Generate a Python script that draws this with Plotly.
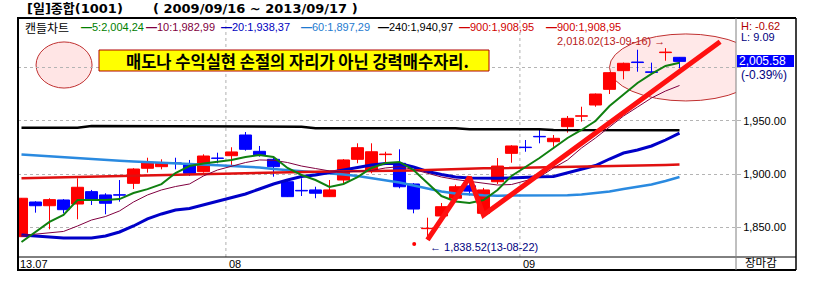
import plotly.graph_objects as go

# ---------------- data ----------------
dates = (["2013-07-%02d" % d for d in [11, 12, 15, 16, 17, 18, 19, 22, 23, 24, 25, 26, 29, 30, 31]] +
         ["2013-08-%02d" % d for d in [1, 2, 5, 6, 7, 8, 9, 12, 13, 14, 16, 19, 20, 21, 22, 23, 26, 27, 28, 29, 30]] +
         ["2013-09-%02d" % d for d in [2, 3, 4, 5, 6, 9, 10, 11, 12, 13, 16, 17]])

opens = [1841.3, 1873.8, 1870.3, 1875.7, 1871.9, 1883.5, 1880.4, 1880.6, 1891.3, 1905.4,
         1906.9, 1910.4, 1908.5, 1902.2, 1915.0, 1917.2, 1936.6, 1921.3, 1913.8, 1892.8,
         1884.7, 1885.1, 1878.8, 1894.4, 1913.8, 1903.8, 1918.2, 1910.1, 1890.7, 1848.8,
         1860.7, 1877.3, 1889.0, 1863.2, 1892.8, 1919.4, 1925.2, 1935.3, 1930.3, 1944.4,
         1954.2, 1964.7, 1979.4, 1996.9, 2005.0, 1995.8, 2013.8, 2009.4]
highs = [1877.5, 1874.5, 1877.3, 1876.5, 1896.0, 1885.1, 1882.0, 1894.4, 1905.5, 1915.3,
         1913.8, 1915.3, 1913.2, 1918.5, 1920.0, 1925.1, 1939.4, 1926.3, 1916.9, 1893.5,
         1896.0, 1888.1, 1894.4, 1914.0, 1928.8, 1928.8, 1920.9, 1923.2, 1891.5, 1859.1,
         1872.9, 1890.0, 1896.0, 1887.0, 1915.0, 1927.0, 1931.9, 1941.3, 1936.6, 1954.4,
         1963.1, 1975.5, 1995.5, 2004.5, 2016.5, 2004.4, 2018.02, 2009.6]
lows = [1841.0, 1863.8, 1848.2, 1863.2, 1857.6, 1871.0, 1862.3, 1874.1, 1886.0, 1901.3,
        1904.4, 1904.4, 1898.2, 1901.3, 1910.1, 1908.5, 1921.9, 1916.3, 1897.5, 1878.5,
        1879.4, 1877.3, 1878.5, 1891.3, 1910.1, 1900.7, 1908.5, 1886.6, 1863.2, 1838.52,
        1858.5, 1875.0, 1880.0, 1862.0, 1890.7, 1910.6, 1920.9, 1928.8, 1925.6, 1938.8,
        1949.1, 1963.1, 1975.0, 1988.8, 1995.9, 1993.0, 2006.2, 1999.1]
closes = [1877.3, 1870.3, 1876.0, 1866.6, 1887.6, 1875.7, 1872.6, 1880.2, 1904.7, 1911.0,
          1910.1, 1910.0, 1900.7, 1916.9, 1914.7, 1920.7, 1923.2, 1917.9, 1906.9, 1878.8,
          1884.2, 1882.0, 1885.1, 1913.2, 1924.7, 1920.9, 1918.7, 1888.1, 1867.2, 1849.2,
          1869.4, 1888.1, 1884.0, 1885.1, 1907.5, 1926.3, 1924.8, 1934.9, 1933.5, 1952.2,
          1954.6, 1975.0, 1995.0, 2003.8, 2004.5, 1995.3, 2014.3, 2005.58]

ma5 = [1836.3, 1845.7, 1855.1, 1861.6, 1875.6, 1875.6, 1875.6, 1876.5, 1882.2, 1885.9,
       1890.6, 1900.9, 1907.5, 1909.9, 1911.3, 1913.2, 1916.0, 1917.9, 1916.0, 1905.7,
       1899.1, 1894.4, 1887.9, 1890.7, 1897.2, 1905.7, 1910.4, 1911.3, 1903.8, 1891.6,
       1879.4, 1874.3, 1872.9, 1875.7, 1885.1, 1898.2, 1906.6, 1915.0, 1924.4, 1933.8,
       1941.3, 1949.7, 1963.8, 1975.0, 1985.3, 1993.8, 2001.3, 2004.24]
ma10 = [1842.4, 1843.8, 1844.8, 1846.2, 1851.3, 1856.9, 1860.2, 1865.4, 1873.8, 1880.4,
        1885.1, 1888.3, 1890.7, 1898.2, 1903.8, 1907.5, 1910.8, 1913.2, 1912.9, 1910.8,
        1907.5, 1905.2, 1902.9, 1901.9, 1902.9, 1903.3, 1905.7, 1906.9, 1904.3, 1901.0,
        1897.2, 1894.9, 1893.0, 1891.1, 1889.7, 1890.2, 1893.5, 1897.2, 1905.7, 1913.2,
        1924.4, 1933.8, 1944.1, 1954.4, 1962.8, 1971.3, 1977.8, 1982.99]
ma20 = [1842.9, 1841.9, 1840.5, 1840.1, 1840.1, 1840.1, 1841.9, 1845.7, 1851.3, 1857.9,
        1862.6, 1866.3, 1867.7, 1871.0, 1874.7, 1878.0, 1881.3, 1886.0, 1890.7, 1894.4,
        1897.7, 1899.1, 1901.5, 1903.8, 1906.6, 1908.5, 1909.9, 1909.9, 1906.6, 1902.4,
        1899.6, 1897.2, 1896.3, 1896.0, 1896.0, 1896.3, 1897.2, 1897.5, 1897.7, 1901.0,
        1904.7, 1908.0, 1914.1, 1919.7, 1922.5, 1926.3, 1931.9, 1938.37]
ma60 = [1918.3, 1917.4, 1916.4, 1915.7, 1914.9, 1914.1, 1913.2, 1912.4, 1911.8, 1911.3,
        1910.8, 1910.4, 1909.9, 1909.0, 1908.2, 1907.5, 1907.1, 1906.1, 1904.7, 1903.8,
        1902.9, 1901.6, 1900.7, 1899.6, 1898.2, 1896.3, 1894.4, 1892.1, 1889.3, 1886.5,
        1883.6, 1881.8, 1880.8, 1880.1, 1879.7, 1879.7, 1879.7, 1879.7, 1879.7, 1880.2,
        1880.8, 1882.0, 1883.6, 1886.0, 1887.9, 1890.2, 1893.5, 1897.29]
ma240 = [1943.5, 1943.5, 1943.5, 1943.5, 1943.5, 1945.0, 1945.0, 1945.0, 1945.0, 1945.0,
         1945.0, 1945.0, 1945.0, 1945.0, 1945.0, 1945.0, 1944.3, 1944.3, 1944.3, 1944.3,
         1944.3, 1942.9, 1942.9, 1942.9, 1942.9, 1942.9, 1942.9, 1942.9, 1942.9, 1942.9,
         1942.9, 1942.9, 1942.0, 1942.0, 1942.0, 1942.0, 1942.0, 1942.0, 1941.2, 1941.2,
         1941.2, 1941.2, 1941.2, 1941.2, 1941.2, 1941.2, 1941.1, 1940.97]
ma900 = [1896.0, 1896.3, 1896.8, 1897.2, 1897.7, 1897.9, 1898.2, 1898.4, 1898.6, 1898.8,
         1899.1, 1899.3, 1899.6, 1900.0, 1900.5, 1901.0, 1901.3, 1901.6, 1901.9, 1901.9,
         1902.1, 1902.2, 1902.3, 1902.4, 1902.4, 1902.7, 1902.9, 1903.1, 1903.4, 1903.8,
         1904.3, 1904.7, 1905.1, 1905.4, 1905.5, 1905.7, 1906.1, 1906.6, 1906.9, 1906.9,
         1906.9, 1906.9, 1907.1, 1907.3, 1907.7, 1908.2, 1908.5, 1908.95]

legend_labels = ["5:2,004,24", "10:1,982,99", "20:1,938,37", "60:1,897,29",
                 "240:1,940,97", "900:1,908,95", "900:1,908,95"]
y_ticks = [1850, 1900, 1950, 2000]
y_ticktext = ["1,850.00", "1,900.00", "1,950.00", ""]
month_labels = ["13.07", "08", "09"]

# hand-drawn trend line (index, price)
trend_x = [29, 32, 33, 49.9]
trend_y = [1838.2, 1897.0, 1861.6, 2024.0]
dot_x, dot_y = [28.05], [1834.5]

# ---------------- figure ----------------
N = len(closes)
xs = list(range(N))
UP, DOWN = "#ff0000", "#0000ff"
cols = [UP if c >= o else DOWN for o, c in zip(opens, closes)]

fig = go.Figure()

# wicks
for colr in (UP, DOWN):
    wx, wy = [], []
    for i in xs:
        if cols[i] == colr:
            wx += [i, i, None]
            wy += [lows[i], highs[i], None]
    fig.add_trace(go.Scatter(x=wx, y=wy, mode="lines", line=dict(color=colr, width=1),
                             hoverinfo="skip"))
# bodies
fig.add_trace(go.Bar(x=xs, y=[abs(c - o) for o, c in zip(opens, closes)],
                     base=[min(o, c) for o, c in zip(opens, closes)], width=0.86,
                     marker=dict(color=cols, line=dict(color=cols, width=1))))

ma_specs = [(ma60, "#2a8ae0", 2.5), (ma20, "#0000c8", 3), (ma900, "#e01010", 2.5),
            (ma240, "#000000", 2.5), (ma10, "#800040", 1), (ma5, "#108010", 2)]
for arr, colr, w in ma_specs:
    fig.add_trace(go.Scatter(x=xs, y=arr, mode="lines", line=dict(color=colr, width=w)))

fig.add_trace(go.Scatter(x=trend_x, y=trend_y, mode="lines",
                         line=dict(color="#ff1010", width=5)))
fig.add_trace(go.Scatter(x=dot_x, y=dot_y, mode="markers",
                         marker=dict(color="#ff0000", size=4)))

X0, X1 = -0.25, 51.036
Y0, Y1 = 1822.25, 2046.25

PL, PR, PT, PB = 18, 736, 18, 257


def fx(px):
    return (px - PL) / (PR - PL)


def fy(py):
    return (PB - py) / (PB - PT)


shapes = []
# ellipses (data refs so they clip)
shapes.append(dict(type="circle", xref="x", yref="y", x0=1.04, x1=5.04, y0=1980.6, y1=2023.8,
                   fillcolor="rgba(255,190,190,0.4)", line=dict(color="#c03030", width=1),
                   layer="below"))
shapes.append(dict(type="circle", xref="x", yref="y", x0=42.0, x1=52.9, y0=1968.5, y1=2031.3,
                   fillcolor="rgba(255,190,190,0.35)", line=dict(color="#c03030", width=1),
                   layer="below"))
# month grid lines
for k in (15, 36):
    shapes.append(dict(type="line", xref="x", yref="paper", x0=k - 0.4, x1=k - 0.4, y0=0, y1=1,
                       line=dict(color="#b0b0b0", width=1, dash="dot"), layer="below"))
# yellow box
shapes.append(dict(type="rect", xref="paper", yref="paper", x0=fx(99), x1=fx(489), y0=fy(71), y1=fy(50),
                   fillcolor="#ffff00", line=dict(color="#b00000", width=1)))
# frame
RX = 796
shapes += [
    dict(type="line", xref="paper", yref="paper", x0=fx(17), x1=fx(RX), y0=fy(18), y1=fy(18),
         line=dict(color="black", width=2)),
    dict(type="line", xref="paper", yref="paper", x0=fx(18), x1=fx(18), y0=fy(18), y1=fy(270),
         line=dict(color="black", width=2)),
    dict(type="line", xref="paper", yref="paper", x0=fx(17), x1=fx(RX), y0=fy(270), y1=fy(270),
         line=dict(color="black", width=2)),
    dict(type="line", xref="paper", yref="paper", x0=fx(RX), x1=fx(RX), y0=fy(18), y1=fy(270),
         line=dict(color="black", width=1.5)),
    dict(type="line", xref="paper", yref="paper", x0=fx(18), x1=fx(RX), y0=fy(257), y1=fy(257),
         line=dict(color="black", width=1)),
    dict(type="line", xref="paper", yref="paper", x0=fx(736), x1=fx(736), y0=fy(18), y1=fy(270),
         line=dict(color="#808080", width=1)),
    # current price box
    dict(type="rect", xref="paper", yref="paper", x0=fx(737), x1=fx(794), y0=fy(67), y1=fy(55),
         fillcolor="#0000ff", line=dict(width=0)),
]

NUMF = "Liberation Sans Narrow, Arial Narrow, Liberation Sans, Arial"
KRF = "Noto Sans CJK KR"
HDRF = "DejaVu Sans, Noto Sans CJK KR"
ann = []


def txt(px, py, s, color="black", size=11, family=NUMF, anchor="left", bold=False):
    if bold:
        s = "<b>" + s + "</b>"
    ann.append(dict(xref="paper", yref="paper", x=fx(px), y=fy(py), text=s, showarrow=False,
                    xanchor=anchor, yanchor="middle", font=dict(color=color, size=size, family=family),
                    borderpad=0))


# header
txt(26, 9, "[일]종합(1001)", size=13, family=HDRF, bold=True)
txt(152, 9, "( 2009/09/16 ~ 2013/09/17 )", size=13, family=HDRF, bold=True)
# legend row
txt(24, 27, "캔들차트", size=12, family=KRF)
leg_cols = ["#008000", "#800040", "#0000c0", "#1e7ad0", "#000000", "#d00000", "#d00000"]
leg_x = [80, 145, 220, 300, 377, 458, 545]
for lx, lab, lc in zip(leg_x, legend_labels, leg_cols):
    txt(lx, 27, "<b>—</b>" + lab, color=lc, size=11)
# yellow box text
txt(297, 60.5, "매도나 수익실현 손절의 자리가 아닌 강력매수자리.", size=16.5, family=KRF,
    anchor="center", bold=True)
# right info
txt(740, 25.5, "H: -0.62", color="#b00000", size=11, family="Liberation Sans, Arial")
txt(740, 37, "L: 9.09", color="#000080", size=11, family="Liberation Sans, Arial")
txt(738, 61, "2,005.58", color="white", size=12, family="Liberation Sans, Arial")
txt(740, 74.5, "(-0.39%)", color="#000080", size=12, family="Liberation Sans, Arial")
# month labels
for lx, lab in zip([19, 228, 522], month_labels):
    txt(lx, 263.5, lab, size=11)
txt(761, 261.5, "장마감", size=11.5, family=KRF, anchor="center")

# high / low annotations
ann.append(dict(xref="x", yref="y", x=46, y=highs[46], text="2,018.02(13-09-16) →", showarrow=False,
                xanchor="right", yanchor="middle", yshift=7, xshift=1,
                font=dict(color="#b82020", size=11, family=NUMF)))
ann.append(dict(xref="x", yref="y", x=29, y=lows[29], text="← 1,838.52(13-08-22)", showarrow=False,
                xanchor="left", yanchor="middle", yshift=-7, xshift=0,
                font=dict(color="#000080", size=11, family=NUMF)))

fig.update_layout(
    width=816, height=291, margin=dict(l=PL, r=816 - PR, t=PT, b=291 - PB, pad=0),
    paper_bgcolor="white", plot_bgcolor="white", showlegend=False,
    shapes=shapes, annotations=ann,
    xaxis=dict(range=[X0, X1], showgrid=False, zeroline=False, showticklabels=False, ticks="",
               fixedrange=True),
    yaxis=dict(range=[Y0, Y1], side="right", tickvals=y_ticks, ticktext=y_ticktext,
               showgrid=True, gridcolor="#b4b4b4", griddash="dot", gridwidth=1, zeroline=False,
               ticks="outside", ticklen=4, tickcolor="#b4b4b4",
               tickfont=dict(family="Liberation Sans, Arial", size=11, color="black"),
               fixedrange=True),
)

fig.write_html("out.html")
